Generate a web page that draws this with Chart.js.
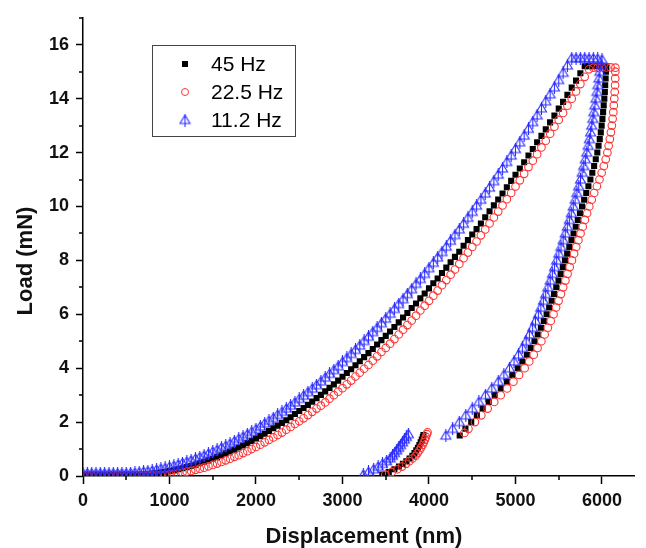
<!DOCTYPE html>
<html>
<head>
<meta charset="utf-8">
<script src="https://cdn.jsdelivr.net/npm/chart.js@4.4.0/dist/chart.umd.min.js"></script>
<style>
  html, body { margin: 0; padding: 0; background: #fff; }
  #wrap { width: 646px; height: 548px; }
</style>
</head>
<body>
<div id="wrap"><canvas id="chart1" width="646" height="548"></canvas></div>
<script>
// load-displacement data: [displacement (nm), load (mN)]
var seriesLabels = ["45 Hz", "22.5 Hz", "11.2 Hz"];
var xMajor = [0, 1000, 2000, 3000, 4000, 5000, 6000];
var xMinor = [500, 1500, 2500, 3500, 4500, 5500];
var yMajor = [0, 2, 4, 6, 8, 10, 12, 14, 16];
var yMinor = [1, 3, 5, 7, 9, 11, 13, 15, 17];

// 45 Hz
var hz45Load = [[0,0.05],[50,0.05],[100,0.05],[150,0.05],[200,0.05],[250,0.05],[300,0.05],[350,0.05],[400,0.05],[450,0.05],[500,0.05],[550,0.05],[600,0.05],
  [650,0.05],[700,0.06],[750,0.07],[800,0.09],[850,0.1],[900,0.13],[950,0.15],[1000,0.18],[1050,0.21],[1100,0.25],[1150,0.29],[1200,0.33],[1250,0.37],[1300,0.42],[1350,0.47],[1400,0.52],[1450,0.58],[1500,0.64],[1550,0.7],[1600,0.77],[1650,0.84],[1700,0.91],[1750,0.98],[1800,1.06],[1850,1.13],[1900,1.22],[1950,1.3],[2000,1.39],[2050,1.48],[2100,1.57],[2150,1.67],[2200,1.77],[2250,1.87],[2300,1.97],[2350,2.07],[2400,2.18],[2450,2.3],[2500,2.41],[2550,2.52],[2600,2.64],[2650,2.76],[2700,2.89],[2750,3.01],[2800,3.14],[2850,3.27],[2900,3.4],[2950,3.54],[3000,3.68],[3050,3.82],[3100,3.96],[3150,4.11],[3200,4.26],[3250,4.41],[3300,4.56],[3350,4.71],[3400,4.88],[3450,5.04],[3500,5.2],[3550,5.36],[3600,5.53],[3650,5.7],[3700,5.88],[3750,6.05],[3800,6.23],[3850,6.4],[3900,6.59],[3950,6.77],[4000,6.96],[4050,7.15],[4100,7.33],[4150,7.53],[4200,7.73],[4250,7.93],[4300,8.13],[4350,8.32],[4400,8.54],[4450,8.75],[4500,8.96],[4550,9.16],[4600,9.37],[4650,9.6],[4700,9.82],[4750,10.04],[4800,10.26],[4850,10.48],[4900,10.71],[4950,10.95],[5000,11.18],[5050,11.41],[5100,11.64],[5150,11.89],[5200,12.13],[5250,12.38],[5300,12.62],[5350,12.86],[5400,13.12],[5450,13.37],[5500,13.63],[5550,13.88],[5600,14.14],[5650,14.41],[5700,14.67],[5750,14.94],[5800,15.2]];
var hz45Hold = [[5850,15.2],[5900,15.2],[5950,15.21],[6000,15.21]];
var hz45Unload = [[6048,15.2],[6046,15],[6042,14.75],[6037,14.5],[6033,14.25],[6027,14],[6020,13.75],[6013,13.5],[6005,13.25],[5996,13],[5986,12.75],[5974,12.5],[5960,12.25],[5946,12],[5928,11.75],[5909,11.5],[5888,11.25],[5866,11],[5843,10.75],[5818,10.5],[5794,10.25],[5769,10],[5745,9.75],[5720,9.5],[5696,9.25],[5671,9],[5647,8.75],[5622,8.5],[5597,8.25],[5572,8],[5547,7.75],[5522,7.5],[5497,7.25],[5471,7],[5445,6.75],[5418,6.5],[5389,6.25],[5360,6],[5327,5.75],[5294,5.5],[5257,5.25],[5219,5],[5175,4.75],[5131,4.5],[5079,4.25],[5026,4],[4963,3.75],[4900,3.5],[4830,3.25],[4760,3],[4690,2.75],[4620,2.5],[4553,2.25],[4488,2],[4421,1.75],[4355,1.5]];
var hz45Tail = [[3936,1.52],[3929,1.45],[3917,1.35],[3904,1.25],[3889,1.15],[3872,1.05],[3853,0.95],[3832,0.85],[3808,0.75],[3775,0.65],[3738,0.55],[3698,0.45],[3653,0.35],[3600,0.25],[3535,0.15],[3460,0.05]];

// 22.5 Hz
var hz22Load = [[0,0.02],[50,0.02],[100,0.02],[150,0.02],[200,0.02],[250,0.02],[300,0.02],[350,0.02],[400,0.02],[450,0.02],[500,0.02],[550,0.02],[600,0.02],[650,0.02],[700,0.02],[750,0.02],[800,0.02],
  [850,0.02],[900,0.03],[950,0.04],[1000,0.06],[1050,0.08],[1100,0.1],[1150,0.13],[1200,0.16],[1250,0.19],[1300,0.23],[1350,0.27],[1400,0.31],[1450,0.36],[1500,0.41],[1550,0.46],[1600,0.52],[1650,0.58],[1700,0.64],[1750,0.71],[1800,0.77],[1850,0.85],[1900,0.92],[1950,1],[2000,1.08],[2050,1.16],[2100,1.25],[2150,1.34],[2200,1.43],[2250,1.52],[2300,1.61],[2350,1.72],[2400,1.82],[2450,1.93],[2500,2.03],[2550,2.14],[2600,2.26],[2650,2.38],[2700,2.5],[2750,2.61],[2800,2.73],[2850,2.87],[2900,3],[2950,3.13],[3000,3.26],[3050,3.4],[3100,3.54],[3150,3.69],[3200,3.83],[3250,3.98],[3300,4.12],[3350,4.28],[3400,4.44],[3450,4.6],[3500,4.75],[3550,4.91],[3600,5.08],[3650,5.25],[3700,5.43],[3750,5.6],[3800,5.77],[3850,5.95],[3900,6.14],[3950,6.32],[4000,6.5],[4050,6.69],[4100,6.88],[4150,7.08],[4200,7.27],[4250,7.47],[4300,7.66],[4350,7.87],[4400,8.08],[4450,8.29],[4500,8.5],[4550,8.7],[4600,8.93],[4650,9.15],[4700,9.37],[4750,9.59],[4800,9.81],[4850,10.04],[4900,10.27],[4950,10.5],[5000,10.74],[5050,10.97],[5100,11.21],[5150,11.46],[5200,11.7],[5250,11.94],[5300,12.19],[5350,12.44],[5400,12.7],[5450,12.96],[5500,13.21],[5550,13.47],[5600,13.74],[5650,14],[5700,14.27],[5750,14.54],[5800,14.81],[5850,15.09]];
var hz22Hold = [[5900,15.15],[5950,15.15],[6000,15.16],[6050,15.16],[6100,15.16]];
var hz22Unload = [[6155,15.15],[6154,15],[6153,14.75],[6151,14.5],[6147,14.25],[6142,14],[6137,13.75],[6131,13.5],[6123,13.25],[6114,13],[6103,12.75],[6091,12.5],[6077,12.25],[6062,12],[6043,11.75],[6021,11.5],[5996,11.25],[5971,11],[5941,10.75],[5910,10.5],[5881,10.25],[5853,10],[5828,9.75],[5802,9.5],[5777,9.25],[5752,9],[5727,8.75],[5702,8.5],[5677,8.25],[5652,8],[5627,7.75],[5602,7.5],[5577,7.25],[5551,7],[5525,6.75],[5498,6.5],[5469,6.25],[5440,6],[5407,5.75],[5374,5.5],[5337,5.25],[5299,5],[5255,4.75],[5211,4.5],[5159,4.25],[5106,4],[5041,3.75],[4976,3.5],[4903,3.25],[4829,3],[4754,2.75],[4678,2.5],[4605,2.25],[4531,2],[4456,1.75],[4410,1.6]];
var hz22Tail = [[3983,1.62],[3976,1.55],[3965,1.45],[3953,1.35],[3940,1.25],[3925,1.15],[3908,1.05],[3889,0.95],[3868,0.85],[3845,0.75],[3810,0.65],[3773,0.55],[3733,0.45],[3688,0.35],[3635,0.25],[3570,0.15],[3495,0.05]];

// 11.2 Hz
var hz11Load = [[0,0.1],[50,0.1],[100,0.1],[150,0.1],[200,0.1],[250,0.1],[300,0.1],[350,0.1],[400,0.1],[450,0.1],[500,0.1],[550,0.11],[600,0.12],[650,0.14],[700,0.16],[750,0.18],[800,0.2],[850,0.23],[900,0.27],[950,0.3],[1000,0.34],[1050,0.38],[1100,0.43],[1150,0.48],[1200,0.53],[1250,0.58],[1300,0.64],[1350,0.7],[1400,0.76],[1450,0.83],[1500,0.9],[1550,0.97],[1600,1.05],[1650,1.12],[1700,1.2],[1750,1.29],[1800,1.38],[1850,1.46],[1900,1.55],[1950,1.64],[2000,1.74],[2050,1.84],[2100,1.95],[2150,2.05],[2200,2.15],[2250,2.27],[2300,2.38],[2350,2.5],[2400,2.61],[2450,2.73],[2500,2.86],[2550,2.98],[2600,3.11],[2650,3.24],[2700,3.37],[2750,3.51],[2800,3.65],[2850,3.79],[2900,3.93],[2950,4.07],[3000,4.23],[3050,4.38],[3100,4.53],[3150,4.68],[3200,4.84],[3250,5.01],[3300,5.17],[3350,5.34],[3400,5.5],[3450,5.67],[3500,5.84],[3550,6.02],[3600,6.2],[3650,6.38],[3700,6.56],[3750,6.75],[3800,6.93],[3850,7.13],[3900,7.31],[3950,7.5],[4000,7.71],[4050,7.91],[4100,8.11],[4150,8.31],[4200,8.51],[4250,8.73],[4300,8.94],[4350,9.15],[4400,9.36],[4450,9.58],[4500,9.8],[4550,10.03],[4600,10.25],[4650,10.48],[4700,10.7],[4750,10.94],[4800,11.18],[4850,11.41],[4900,11.65],[4950,11.89],[5000,12.13],[5050,12.38],[5100,12.63],[5150,12.88],[5200,13.13],[5250,13.38],[5300,13.64],[5350,13.9],[5400,14.16],[5450,14.42],[5500,14.69],[5550,14.96],[5600,15.23],[5650,15.5]];
var hz11Hold = [[5700,15.5],[5750,15.5],[5800,15.5],[5850,15.49],[5900,15.49],[5950,15.48]];
var hz11Unload = [[6000,15.45],[5988,15.25],[5976,15],[5965,14.75],[5953,14.5],[5942,14.25],[5930,14],[5918,13.75],[5906,13.5],[5894,13.25],[5881,13],[5868,12.75],[5854,12.5],[5839,12.25],[5824,12],[5807,11.75],[5789,11.5],[5770,11.25],[5751,11],[5731,10.75],[5710,10.5],[5689,10.25],[5667,10],[5645,9.75],[5622,9.5],[5599,9.25],[5575,9],[5551,8.75],[5526,8.5],[5501,8.25],[5476,8],[5451,7.75],[5426,7.5],[5401,7.25],[5375,7],[5349,6.75],[5322,6.5],[5293,6.25],[5264,6],[5231,5.75],[5198,5.5],[5161,5.25],[5123,5],[5079,4.75],[5035,4.5],[4983,4.25],[4930,4],[4865,3.75],[4800,3.5],[4726,3.25],[4652,3],[4576,2.75],[4500,2.5],[4425,2.25],[4350,2],[4273,1.75],[4195,1.5]];
var hz11Tail = [[3762,1.55],[3738,1.45],[3716,1.35],[3695,1.25],[3672,1.15],[3650,1.05],[3626,0.95],[3602,0.85],[3578,0.75],[3550,0.65],[3510,0.55],[3462,0.45],[3412,0.35],[3360,0.25],[3300,0.15],[3240,0.05]];

var FONT = "'Liberation Sans', Arial, sans-serif";
var BLUE = '#2b2bff';
var RED = '#ff3535';

// open up-triangle crossed by a vertical stroke (the Origin symbol)
function makeTriMarker(color) {
    var c = document.createElement('canvas');
    c.width = 13;
    c.height = 13;
    var g = c.getContext('2d');
    g.strokeStyle = color;
    g.lineWidth = 1.1;
    g.beginPath();
    g.moveTo(6.5, 1.5);
    g.lineTo(11.5, 10);
    g.lineTo(1.5, 10);
    g.closePath();
    g.moveTo(6.5, 0);
    g.lineTo(6.5, 13);
    g.stroke();
    return c;
}
var triMarker = makeTriMarker(BLUE);

// minor ticks, axis titles and the boxed legend
var extras = {
    id: 'extras',
    afterDraw: function(chart) {
        var ctx = chart.ctx, xs = chart.scales.x, ys = chart.scales.y, a = chart.chartArea;
        ctx.save();
        ctx.strokeStyle = '#000';
        ctx.lineWidth = 1.5;
        ctx.beginPath();
        xMinor.forEach(function(v) {
            var px = Math.round(xs.getPixelForValue(v));
            ctx.moveTo(px, a.bottom);
            ctx.lineTo(px, a.bottom + 4);
        });
        yMinor.forEach(function(v) {
            var py = Math.round(ys.getPixelForValue(v));
            ctx.moveTo(a.left, py);
            ctx.lineTo(a.left - 4, py);
        });
        ctx.stroke();

        ctx.fillStyle = '#111';
        ctx.font = 'bold 22px ' + FONT;
        ctx.textAlign = 'center';
        ctx.textBaseline = 'alphabetic';
        ctx.fillText('Displacement (nm)', 364, 543);
        ctx.save();
        ctx.translate(32, 261);
        ctx.rotate(-Math.PI / 2);
        ctx.fillText('Load (mN)', 0, 0);
        ctx.restore();

        // legend box
        ctx.lineWidth = 1;
        ctx.strokeStyle = '#444';
        ctx.strokeRect(152.5, 45.5, 143, 91);
        var rows = [64, 92, 120], mx = 185;
        ctx.fillStyle = '#000';
        ctx.fillRect(mx - 3, rows[0] - 3, 6, 6);
        ctx.strokeStyle = RED;
        ctx.beginPath();
        ctx.arc(mx, rows[1], 3.5, 0, Math.PI * 2);
        ctx.stroke();
        ctx.drawImage(triMarker, mx - 6.5, rows[2] - 6.5);
        ctx.font = '21px ' + FONT;
        ctx.textAlign = 'left';
        ctx.textBaseline = 'middle';
        ctx.fillStyle = '#000';
        seriesLabels.forEach(function(t, i) {
            ctx.fillText(t, 211, rows[i] + 1);
        });
        ctx.restore();
    }
};

var tickFont = { family: FONT, size: 18, weight: 'bold' };
function plainLabel(v) { return String(v); }

new Chart(document.getElementById('chart1'), {
    type: 'scatter',
    data: {
        datasets: [{
            label: seriesLabels[0],
            data: hz45Load.concat(hz45Hold, hz45Unload, hz45Tail),
            pointStyle: 'rect',
            pointRadius: 4.3,
            backgroundColor: '#000',
            borderColor: '#000',
            borderWidth: 0,
            order: 2
        }, {
            label: seriesLabels[1],
            data: hz22Load.concat(hz22Hold, hz22Unload, hz22Tail),
            pointStyle: 'circle',
            pointRadius: 3.8,
            backgroundColor: 'rgba(255,255,255,0)',
            borderColor: RED,
            borderWidth: 1.1,
            order: 1
        }, {
            label: seriesLabels[2],
            data: hz11Load.concat(hz11Hold, hz11Unload, hz11Tail),
            pointStyle: triMarker,
            pointRadius: 6,
            backgroundColor: BLUE,
            borderColor: BLUE,
            order: 0
        }]
    },
    options: {
        responsive: false,
        animation: false,
        events: [],
        layout: { padding: { left: 0, right: 12, top: 15, bottom: 0 } },
        plugins: {
            legend: { display: false },
            tooltip: { enabled: false }
        },
        scales: {
            x: {
                type: 'linear',
                min: 0,
                max: 6370,
                afterFit: function(s) { s.height = 72; },
                afterBuildTicks: function(s) { s.ticks = xMajor.map(function(v) { return { value: v }; }); },
                ticks: { padding: 6, color: '#111', font: tickFont, callback: plainLabel },
                grid: { drawOnChartArea: false, drawTicks: true, tickLength: 8, tickWidth: 1.5, tickColor: '#000' },
                border: { display: true, color: '#000', width: 1.5 }
            },
            y: {
                type: 'linear',
                min: 0,
                max: 17,
                afterFit: function(s) { s.width = 83; },
                afterBuildTicks: function(s) { s.ticks = yMajor.map(function(v) { return { value: v }; }); },
                ticks: { padding: 7, color: '#111', font: tickFont, callback: plainLabel },
                grid: { drawOnChartArea: false, drawTicks: true, tickLength: 7, tickWidth: 1.5, tickColor: '#000' },
                border: { display: true, color: '#000', width: 1.5 }
            }
        }
    },
    plugins: [extras]
});
</script>
</body>
</html>
